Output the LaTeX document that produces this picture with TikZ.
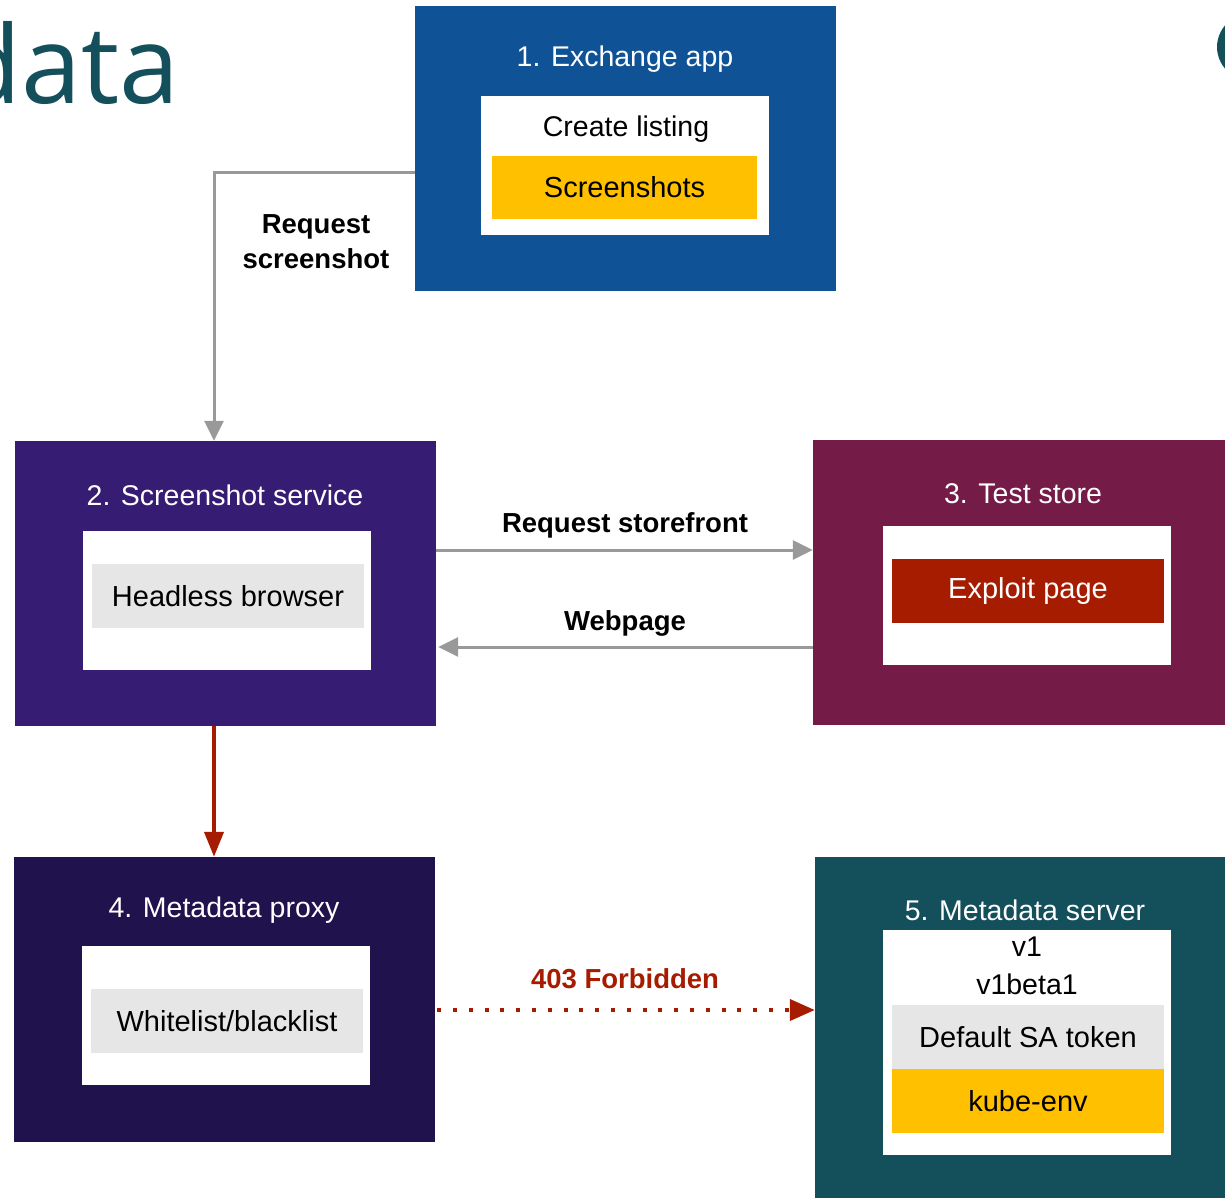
\documentclass[tikz,border=0pt]{standalone}
\usepackage{fontspec}
\setmainfont{Liberation Sans}
\newfontfamily\headfont{Open Sans}
\usetikzlibrary{arrows.meta}
\definecolor{exblue}{RGB}{15,82,150}
\definecolor{svcpurple}{RGB}{55,28,116}
\definecolor{storeplum}{RGB}{116,27,71}
\definecolor{proxyink}{RGB}{32,18,77}
\definecolor{mdteal}{RGB}{20,79,92}
\definecolor{gold}{RGB}{255,192,0}
\definecolor{rust}{RGB}{166,28,0}
\definecolor{pale}{RGB}{230,230,230}
\definecolor{wire}{RGB}{153,153,153}
\tikzset{
  panel/.style={rectangle, inner sep=0pt, minimum width=421pt, minimum height=285pt},
  card/.style={rectangle, fill=white, inner sep=0pt, minimum width=288pt, minimum height=139pt},
  bar/.style={rectangle, inner sep=0pt, minimum width=272pt, minimum height=64pt,
    font=\fontsize{29}{32}\selectfont},
  ptitle/.style={text=white, font=\fontsize{28.5}{32}\selectfont, inner sep=0pt},
  plain/.style={text=black, font=\fontsize{28.5}{32}\selectfont, inner sep=0pt},
  tag/.style={font=\fontsize{27.5}{35}\selectfont\bfseries, inner sep=0pt, align=center},
  flow/.style={draw=wire, line width=3pt, -{Triangle[length=20pt,width=19pt]}},
}
\begin{document}
\begin{tikzpicture}[x=1pt,y=-1pt]
\useasboundingbox (0,0) rectangle (1225,1197);
\clip (0,0) rectangle (1225,1197);

% heading fragment and logo edge
\node[anchor=base east, inner sep=0pt, text=mdteal, font=\fontsize{108}{110}\headfont] (head) at (180,103) {data};
\fill[mdteal] (1262,47) ellipse (45 and 38);

% 1. Exchange app
\node[panel, fill=exblue] (b1) at (625.5,148.5) {};
\node[ptitle] (t1) at (625,59) {1. Exchange app};
\node[card] (c1) at (625,165.5) {};
\node[plain] (l1) at (626,129) {Create listing};
\node[bar, fill=gold, minimum width=265pt, minimum height=63pt] (s1) at (624.5,187.5) {Screenshots};

% 2. Screenshot service
\node[panel, fill=svcpurple] (b2) at (225.5,583.5) {};
\node[ptitle] (t2) at (225,495) {2. Screenshot service};
\node[card] (c2) at (227,600.5) {};
\node[bar, fill=pale] (s2) at (228,596) {Headless browser};

% 3. Test store
\node[panel, fill=storeplum] (b3) at (1023.5,582.5) {};
\node[ptitle] (t3) at (1023,494) {3. Test store};
\node[card] (c3) at (1027,595.5) {};
\node[bar, fill=rust, text=white] (s3) at (1028,591) {Exploit page};

% 4. Metadata proxy
\node[panel, fill=proxyink] (b4) at (224.5,999.5) {};
\node[ptitle] (t4) at (224,910) {4. Metadata proxy};
\node[card] (c4) at (226,1015.5) {};
\node[bar, fill=pale] (s4) at (227,1021) {Whitelist/blacklist};

% 5. Metadata server
\node[panel, fill=mdteal, minimum height=355pt] (b5) at (1025.5,1034.5) {};
\node[ptitle] (t5) at (1025,910) {5. Metadata server};
\node[card, minimum height=225pt] (c5) at (1027,1042.5) {};
\node[plain] (v1) at (1027,947) {v1};
\node[plain] (v2) at (1027,984) {v1beta1};
\node[bar, fill=pale] (s5) at (1028,1037) {Default SA token};
\node[bar, fill=gold] (k5) at (1028,1101) {kube-env};

% connectors
\draw[flow] ([yshift=-23.5pt]b1.west) -| ([xshift=-11.5pt]b2.north);
\node[tag] (q1) at (316,242) {Request\\screenshot};

\draw[flow] ([yshift=33.5pt]b2.east) -- ([yshift=32.5pt]b3.west);
\node[tag] (q2) at (625,525) {Request storefront};

\draw[flow] ([yshift=-64.5pt]b3.west) -- ([xshift=2pt,yshift=-63.5pt]b2.east);
\node[tag] (q3) at (625,623) {Webpage};

\draw[draw=rust, line width=4pt, -{Triangle[length=25pt,width=19pt]}]
  ([xshift=-11.5pt]b2.south) -- ([xshift=-10.5pt]b4.north);

\draw[draw=rust, line width=4pt, line cap=butt, dash pattern=on 4pt off 11.8pt,
      -{Triangle[length=25pt,width=21pt]}]
  ([xshift=2pt,yshift=-10.5pt]b4.east) -- ([yshift=24.5pt]b5.west);
\node[tag, text=rust] (q4) at (625,979) {403 Forbidden};
\end{tikzpicture}
\end{document}
